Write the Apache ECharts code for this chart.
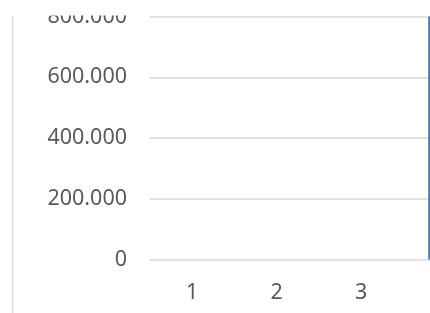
<!DOCTYPE html>
<html><head><meta charset="utf-8">
<script src="https://cdn.jsdelivr.net/npm/echarts@6/dist/echarts.min.js"></script>
<style>html,body{margin:0;padding:0;background:#fff}#c{width:430px;height:313px}</style>
</head><body><div id="c"></div>
<script>
const categories = ['1', '2', '3', '4'];
const values = [0, 0, 0, 800000];
const yTicks = [0, 200000, 400000, 600000, 800000];
const yTickLabels = ['0', '200.000', '400.000', '600.000', '800.000'];

const chart = echarts.init(document.getElementById('c'), null, {renderer: 'canvas'});
chart.setOption({
  animation: false,
  grid: {left: 150, top: 16.5, width: 338, height: 243, outerBoundsMode: 'none', containLabel: false},
  xAxis: {
    type: 'category', data: categories,
    axisLine: {show: false}, axisTick: {show: false},
    axisLabel: {color: '#595959', fontFamily: 'Noto Sans', fontSize: 21.5, margin: 22}
  },
  yAxis: {
    type: 'value', min: yTicks[0], max: yTicks[yTicks.length - 1], interval: yTicks[1] - yTicks[0],
    axisLine: {show: false}, axisTick: {show: false},
    splitLine: {lineStyle: {color: '#d9d9d9', width: 1.5}},
    axisLabel: {
      color: '#595959', fontFamily: 'Noto Sans', fontSize: 21.5, margin: 23,
      formatter: v => yTickLabels[yTicks.indexOf(v)]
    }
  },
  series: [{type: 'bar', data: values, barWidth: 35, itemStyle: {color: '#4472C4'}}],
  graphic: [
    {type: 'rect', shape: {x: 0, y: 0, width: 430, height: 15.5}, style: {fill: '#fff'}, z: 100},
    {type: 'line', shape: {x1: 12.5, y1: 16, x2: 12.5, y2: 313}, style: {stroke: '#d9d9d9', lineWidth: 1.5}, z: 100}
  ]
});
</script></body></html>
